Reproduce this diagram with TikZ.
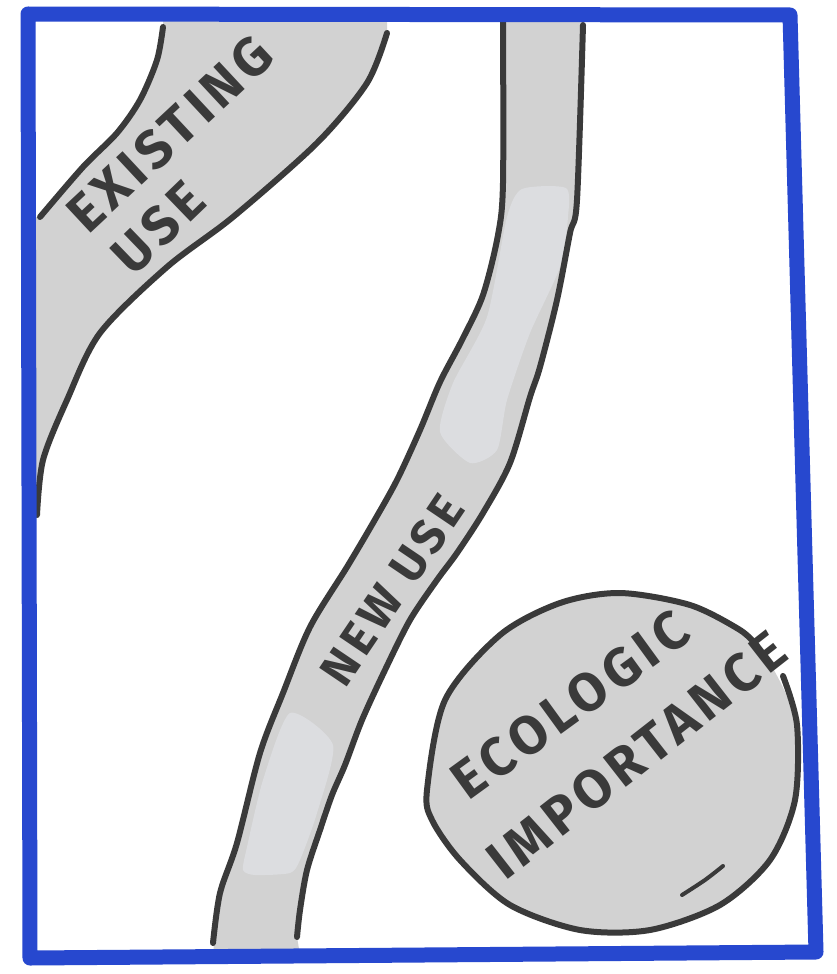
\documentclass[tikz,border=0pt]{standalone}
\usepackage{fontspec}
\newfontfamily\hand[LetterSpace=10]{Fira Sans}
\definecolor{frameblue}{HTML}{2748CF}
\definecolor{ink}{HTML}{3A3A3A}
\definecolor{bandgray}{HTML}{D2D2D2}
\definecolor{patchgray}{HTML}{DCDDE0}
\begin{document}
\begin{tikzpicture}[x=1pt,y=-1pt,
  band/.style={fill=bandgray},
  outl/.style={draw=ink,line width=6pt,line cap=round,line join=round},
  patch/.style={fill=patchgray},
  lbl/.style={text=ink,font=\hand\bfseries\fontsize{#1}{#1}\selectfont,inner sep=0pt},
  lbl/.default=52,
  bluebox/.style={draw=frameblue,line width=15pt,line join=round,line cap=round}]
\useasboundingbox (0,0) rectangle (836,974);
\fill[white] (0,0) rectangle (836,974);

% Existing use band
\fill[band] (25,218) -- plot[smooth] coordinates {(40,217) (83,167) (117,133) (140,100) (157,60) (163,27)}
  -- (163,12) -- (387,12)
  -- plot[smooth] coordinates {(387,33) (367,83) (317,143) (233,217) (167,267) (100,333) (67,400) (43,460) (37,515)}
  -- (25,520) -- cycle;
\draw[outl] plot[smooth] coordinates {(40,217) (83,167) (117,133) (140,100) (157,60) (163,27)};
\draw[outl] plot[smooth] coordinates {(387,33) (367,83) (317,143) (233,217) (167,267) (100,333) (67,400) (43,460) (37,515)};

% New use band
\fill[band] plot[smooth] coordinates {(503,15) (503,183) (498,235) (483,295) (462,340) (440,382) (420,430) (397,480) (373,523) (347,567) (310,627) (283,693) (260,753) (237,843) (220,893) (213,955)}
  -- (300,955)
  -- plot[smooth] coordinates {(297,937) (300,910) (307,870) (320,830) (332,795) (345,765) (362,720) (385,670) (410,620) (437,580) (457,553) (483,513) (510,463) (530,397) (540,367) (557,300) (570,233) (577,200) (583,15)}
  -- cycle;
% light patches
\fill[patch] plot[smooth cycle, tension=0.4] coordinates {(522,189) (566,188) (568,217) (560,267) (530,333) (507,400) (497,450) (470,463) (440,432) (453,383) (487,317) (507,217)};
\fill[patch] plot[smooth cycle, tension=0.4] coordinates {(290,713) (333,745) (317,813) (300,860) (290,873) (255,875) (243,870) (247,847) (263,780)};
\draw[outl] plot[smooth] coordinates {(503,22) (503,183) (498,235) (483,295) (462,340) (440,382) (420,430) (397,480) (373,523) (347,567) (310,627) (283,693) (260,753) (237,843) (220,893) (213,943)};
\draw[outl] plot[smooth] coordinates {(297,937) (300,910) (307,870) (320,830) (332,795) (345,765) (362,720) (385,670) (410,620) (437,580) (457,553) (483,513) (510,463) (530,397) (540,367) (557,300) (570,233) (577,200) (583,25)};

% Ecologic importance blob
\fill[band] plot[smooth cycle] coordinates {(427,790) (445,700) (500,635) (560,603) (620,593) (690,605) (740,630) (768,660) (795,720) (795,800) (770,860) (720,905) (650,930) (580,930) (510,905) (460,860) (432,820)};
\draw[outl] plot[smooth] coordinates {(783,676) (797,725) (795,800) (770,860) (720,905) (650,930) (580,930) (510,905) (460,860) (432,820) (427,790) (445,700) (500,635) (560,603) (620,593) (690,605) (740,630) (757,646)};
\draw[outl,line width=4pt] plot[smooth] coordinates {(723,866) (705,880) (682,895)};

% labels
\node[lbl=54,rotate=43] (existing) at (170,134) {EXISTING};
\node[lbl=54,rotate=44] (use) at (158,228) {USE};
\node[lbl=48,rotate=56] (newuse) at (392,590) {NEW USE};
\node[lbl=54,rotate=36] (ecologic) at (570,705) {ECOLOGIC};
\node[lbl=54,rotate=38] (importance) at (637,755) {IMPORTANCE};

% blue frame
\draw[bluebox] (28,14) -- (790,15) -- (816,952) -- (30,958) -- cycle;
\end{tikzpicture}
\end{document}
